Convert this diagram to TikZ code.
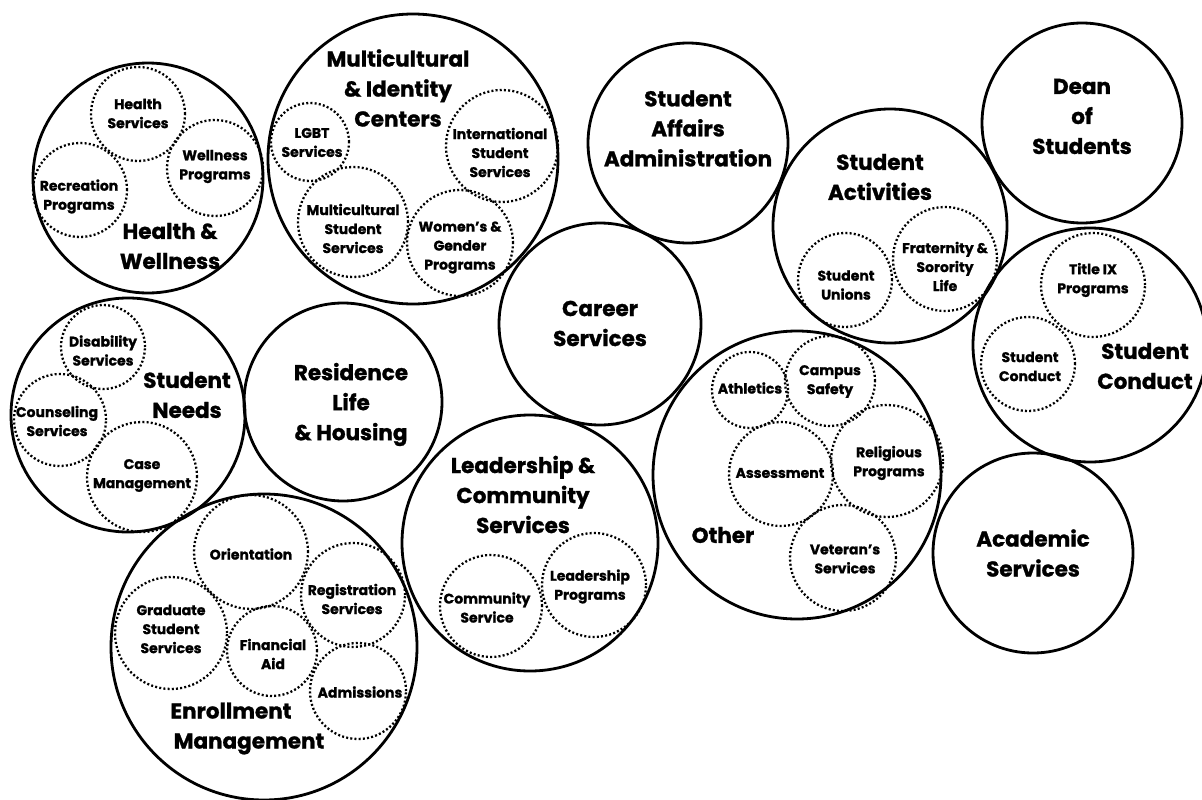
\documentclass[tikz,border=0pt]{standalone}
\usepackage{fontspec}
\setmainfont{Poppins}[BoldFeatures={FakeBold=1.2}]
\begin{document}
\begin{tikzpicture}[x=1pt,y=-1pt,
  group/.style={circle,draw=black,line width=2.8pt,inner sep=0pt,minimum size=#1},
  unit/.style={circle,draw=black,line width=2.3pt,dash pattern=on 2pt off 2.2pt,inner sep=0pt,minimum size=#1},
  biglabel/.style={align=center,inner sep=0pt,font=\bfseries\fontsize{21.5}{30}\selectfont},
  smalllabel/.style={align=center,inner sep=0pt,font=\bfseries\fontsize{14}{19}\selectfont}]
\useasboundingbox (0,0) rectangle (1202,800);

% Health & Wellness
\node[group=230] (hw) at (148,178) {};
\node[unit=94] (hwsvc) at (138,114) {};
\node[unit=96] (hwwell) at (215,168) {};
\node[unit=94] (hwrec) at (80,190) {};
\node[biglabel] (hwlbl) at (170,246) {Health \&\\Wellness};
\node[smalllabel] (hwsvclbl) at (138,113.5) {Health\\Services};
\node[smalllabel] (hwwelllbl) at (215,166.5) {Wellness\\Programs};
\node[smalllabel] (hwreclbl) at (79,196.5) {Recreation\\Programs};

% Multicultural & Identity Centers
\node[group=290] (mic) at (413,159) {};
\node[unit=78] (lgbt) at (310,142) {};
\node[unit=112] (intl) at (502,146) {};
\node[unit=110] (mss) at (353,222) {};
\node[unit=106] (wgp) at (460,243) {};
\node[biglabel] (miclbl) at (398,88) {Multicultural\\\& Identity\\Centers};
\node[smalllabel] (lgbtlbl) at (312,142.5) {LGBT\\Services};
\node[smalllabel] (intllbl) at (500,152.5) {International\\Student\\Services};
\node[smalllabel] (msslbl) at (353,228.5) {Multicultural\\Student\\Services};
\node[smalllabel] (wgplbl) at (460,247.5) {Women’s \&\\Gender\\Programs};

% Student Affairs Administration
\node[group=200] (saa) at (688,143) {};
\node[biglabel] (saalbl) at (688,128.5) {Student\\Affairs\\Administration};

% Dean of Students
\node[group=200] (dean) at (1082,123) {};
\node[biglabel] (deanlbl) at (1082,116.5) {Dean\\of\\Students};

% Student Activities
\node[group=234] (sa) at (890,226) {};
\node[unit=94] (unions) at (845,280) {};
\node[unit=104] (greek) at (945,259) {};
\node[biglabel] (salbl) at (880,177) {Student\\Activities};
\node[smalllabel] (unionslbl) at (846,285) {Student\\Unions};
\node[smalllabel] (greeklbl) at (945,266.5) {Fraternity \&\\Sorority\\Life};

% Student Conduct
\node[group=234] (sc) at (1090,345) {};
\node[unit=104] (title) at (1093,285) {};
\node[unit=94] (conduct) at (1028,364) {};
\node[biglabel] (sclbl) at (1145,366) {Student\\Conduct};
\node[smalllabel] (titlelbl) at (1093,280) {Title IX\\Programs};
\node[smalllabel] (conductlbl) at (1030,366.5) {Student\\Conduct};

% Career Services
\node[group=202] (career) at (600,324) {};
\node[biglabel] (careerlbl) at (600,323.5) {Career\\Services};

% Student Needs
\node[group=234] (sn) at (128,415) {};
\node[unit=84] (dis) at (103,347) {};
\node[unit=92] (couns) at (60,420) {};
\node[unit=110] (case) at (142,477) {};
\node[biglabel] (snlbl) at (187,395) {Student\\Needs};
\node[smalllabel] (dislbl) at (103,350.5) {Disability\\Services};
\node[smalllabel] (counslbl) at (57,421) {Counseling\\Services};
\node[smalllabel] (caselbl) at (142,475.5) {Case\\Management};

% Residence Life & Housing
\node[group=198] (res) at (343,402) {};
\node[biglabel] (reslbl) at (351,404.5) {Residence\\Life\\\& Housing};

% Leadership & Community Services
\node[group=256] (lcs) at (530,543) {};
\node[unit=102] (comm) at (491,606) {};
\node[unit=104] (lead) at (594,585) {};
\node[biglabel] (lcslbl) at (523,494.5) {Leadership \&\\Community\\Services};
\node[smalllabel] (commlbl) at (487,607.5) {Community\\Service};
\node[smalllabel] (leadlbl) at (590,586.5) {Leadership\\Programs};

% Other
\node[group=288] (other) at (797,475) {};
\node[unit=76] (ath) at (750,390) {};
\node[unit=90] (safety) at (830,381) {};
\node[unit=104] (assess) at (781,474) {};
\node[unit=112] (relig) at (887,461) {};
\node[unit=106] (vet) at (843,558) {};
\node[biglabel] (otherlbl) at (723,535) {Other};
\node[smalllabel] (athlbl) at (750,388) {Athletics};
\node[smalllabel] (safetylbl) at (830,381.5) {Campus\\Safety};
\node[smalllabel] (assesslbl) at (780,473) {Assessment};
\node[smalllabel] (religlbl) at (889,463) {Religious\\Programs};
\node[smalllabel] (vetlbl) at (845,559) {Veteran’s\\Services};

% Academic Services
\node[group=200] (acad) at (1033,553) {};
\node[biglabel] (acadlbl) at (1033,553) {Academic\\Services};

% Enrollment Management
\node[group=306] (enr) at (264,647) {};
\node[unit=114] (orient) at (251,552) {};
\node[unit=104] (reg) at (353,595) {};
\node[unit=112] (grad) at (171,633) {};
\node[unit=90] (aid) at (272,651) {};
\node[unit=96] (adm) at (358,691) {};
\node[biglabel] (enrlbl) at (249,728.5) {Enrollment\hspace*{36pt}\\Management};
\node[smalllabel] (orientlbl) at (251,554) {Orientation};
\node[smalllabel] (reglbl) at (352,599) {Registration\\Services};
\node[smalllabel] (gradlbl) at (171,629) {Graduate\\Student\\Services};
\node[smalllabel] (aidlbl) at (273,654) {Financial\\Aid};
\node[smalllabel] (admlbl) at (360,692) {Admissions};
\end{tikzpicture}
\end{document}
